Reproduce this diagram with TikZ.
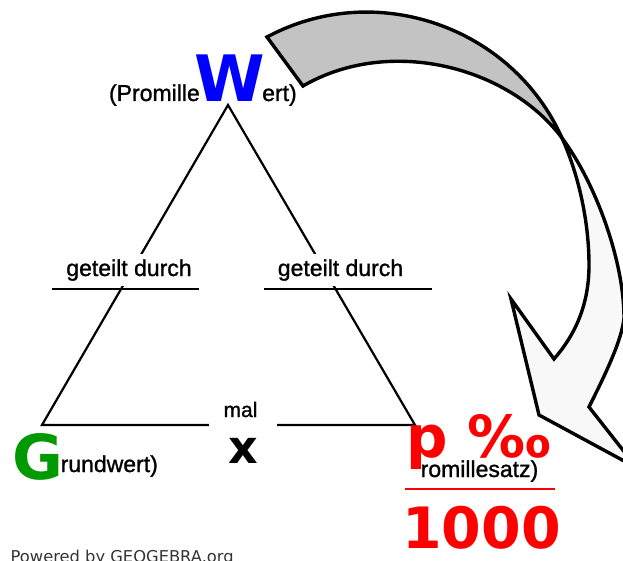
\documentclass[tikz,border=0pt]{standalone}
\usepackage{fontspec}
\setmainfont{Liberation Sans}[FakeBold=1.2]
\newfontfamily\dejavu{DejaVu Sans}
\definecolor{wblue}{RGB}{0,0,255}
\definecolor{ggreen}{RGB}{0,153,0}
\definecolor{pred}{RGB}{255,0,0}
\definecolor{backgray}{RGB}{195,195,195}
\definecolor{frontgray}{RGB}{248,248,248}
\definecolor{footgray}{RGB}{51,51,51}

\begin{document}
\begin{tikzpicture}[x=1pt, y=-1pt]

    \clip (0,0) rectangle (623,561);

    \tikzset{
        lbl/.style={inner sep=0pt, font=\fontsize{23}{27}\selectfont},
        big/.style={inner sep=0pt, font=\dejavu\bfseries\fontsize{#1}{#1}\selectfont},
        cover/.style={fill=white, inner sep=5pt},
        side/.style={line width=2.2pt},
        ribbon/.style={line width=3.4pt, line join=miter}
    }

    % twisted arrow: back face, then front face with head
    \draw[ribbon, fill=backgray] (267,37) .. controls (375,-21) and (512,26) .. (562,138)
        .. controls (508,66) and (389,36) .. (303,86) -- cycle;
    \draw[ribbon, fill=frontgray] (562,138) .. controls (595,182) and (624,260) .. (624,318)
        .. controls (622,340) and (605,375) .. (589,407)
        -- (637,468) -- (539,415) -- (511,299) -- (554,359)
        .. controls (575,335) and (589,305) .. (589,265)
        .. controls (589,225) and (580,178) .. (562,138) -- cycle;

    % triangle
    \coordinate (apex) at (228,105);
    \coordinate (gcorner) at (42,425);
    \coordinate (pcorner) at (415,425);
    \draw[side] (apex) -- (gcorner) -- (pcorner) -- cycle;

    \foreach \a/\b in {52/199, 264/432} {
        \draw[side] (\a,289) -- (\b,289);
    }

    \node[lbl, cover, anchor=base] (divl) at (129,276) {geteilt durch};
    \node[lbl, cover, anchor=base] (divr) at (340.5,276) {geteilt durch};

    \node[lbl, font=\fontsize{21}{25}\selectfont, anchor=base] (mal) at (240.5,417) {mal};
    \node[big=46, cover, text height=38pt, minimum width=68pt, anchor=base] (mult) at (243,463) {x};

    % corners
    \node[big=64, text=wblue, anchor=base] (wert) at (230,102) {W};
    \node[lbl, anchor=base east] (wleft) at (200,101) {(Promille};
    \node[lbl, anchor=base west] (wright) at (262,101) {ert)};

    \node[big=62, text=ggreen, anchor=base west] (grund) at (12,479) {G};
    \node[lbl, anchor=base west] (grundrest) at (60.5,472) {rundwert)};

    \node[big=58, text=pred, anchor=base west] (prom) at (406,457) {p ‰};
    \node[lbl, anchor=base west] (promrest) at (420.5,477) {romillesatz)};
    \draw[line width=2.5pt, pred] (405,489) -- (555,489);
    \node[big=57, text=pred, anchor=base] (tausend) at (481.5,548) {1000};

    \node[inner sep=0pt, anchor=base west, text=footgray,
        font=\dejavu\fontsize{16.3}{19}\selectfont] (geogebra) at (10.5,562) {Powered by GEOGEBRA.org};

\end{tikzpicture}
\end{document}
